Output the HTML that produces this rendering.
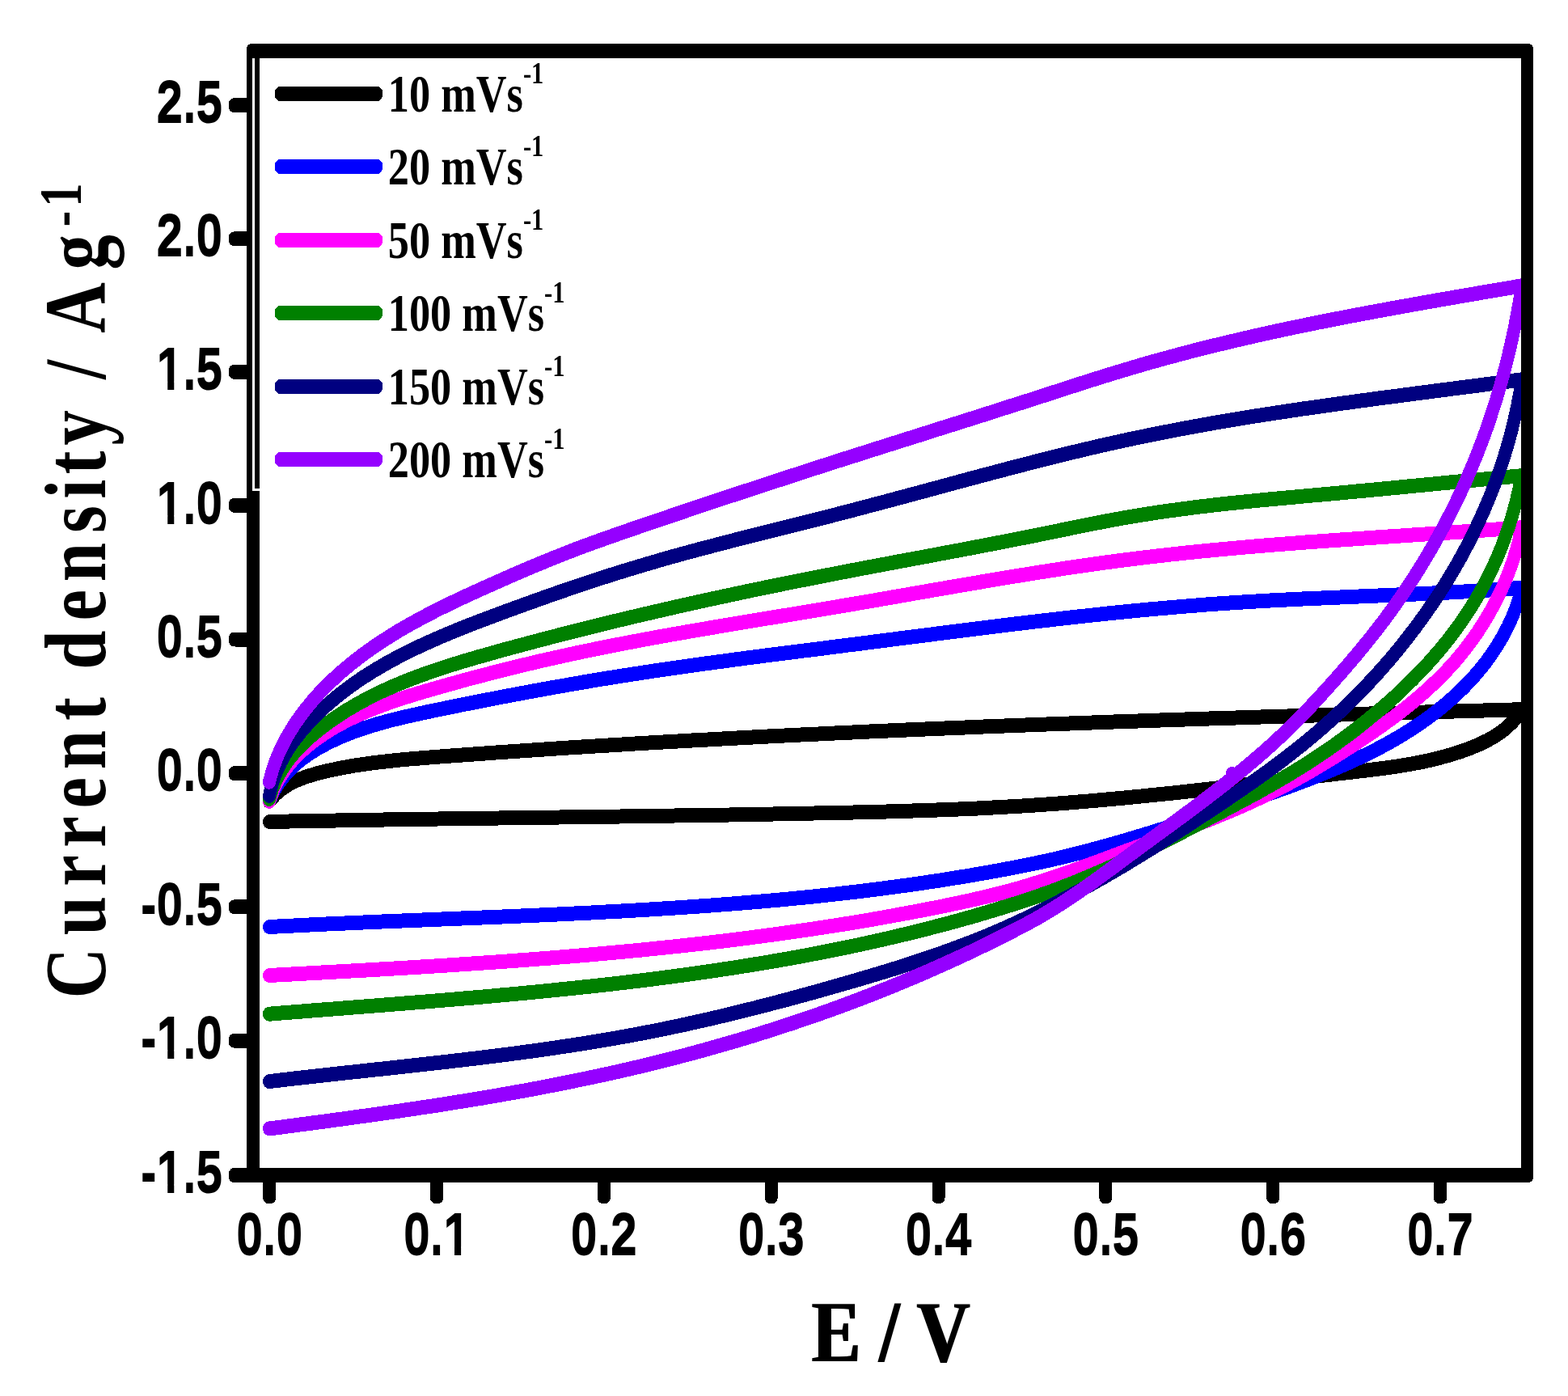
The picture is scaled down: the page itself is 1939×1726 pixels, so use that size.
<!DOCTYPE html>
<html lang="en"><head><meta charset="utf-8"><title>Cyclic voltammetry: current density vs potential</title>
<style>html,body{margin:0;padding:0;background:#fff}body{width:1939px;height:1726px;overflow:hidden}svg{display:block}.sans{font-family:"Liberation Sans",Arial,Helvetica,sans-serif;font-weight:700;font-kerning:none}.serif{font-family:"Liberation Serif","Times New Roman",Times,serif;font-weight:700}text{fill:#000}</style></head><body>
<svg width="1939" height="1726" viewBox="0 0 1939 1726" shape-rendering="crispEdges">
<rect x="0" y="0" width="1939" height="1726" fill="#fff"/>
<defs><clipPath id="plot"><rect x="313" y="63" width="1576" height="1390"/></clipPath><filter id="emb-sans" x="-5%" y="-20%" width="110%" height="140%" color-interpolation-filters="sRGB"><feMorphology operator="dilate" radius="0 0.6"/></filter><filter id="emb-serif" x="-5%" y="-20%" width="110%" height="140%" color-interpolation-filters="sRGB"><feMorphology operator="dilate" radius="0.9 0"/></filter></defs>
<g clip-path="url(#plot)"><g transform="scale(0.88889,1)" fill="none" stroke-width="18" stroke-linecap="round" stroke-linejoin="round">
<path d="M374.6,991.0L383.2,982.1L391.8,975.6L401.7,969.8L413.1,964.7L426.3,960.2L441.3,956.2L458.4,952.5L476.3,949.2L494.4,946.4L513.0,944.0L531.8,941.9L551.0,940.0L570.5,938.4L590.3,937.0L610.4,935.6L630.7,934.3L651.0,933.0L671.3,931.7L691.5,930.4L711.8,929.2L732.1,928.0L752.4,926.8L772.7,925.6L793.0,924.4L813.4,923.3L833.7,922.2L854.0,921.1L874.3,920.0L894.6,918.9L915.0,917.9L935.3,916.9L955.6,915.8L976.0,914.9L996.3,913.9L1016.6,912.9L1037.0,912.0L1057.3,911.0L1077.7,910.1L1098.0,909.2L1118.4,908.3L1138.7,907.5L1159.1,906.6L1179.4,905.8L1199.8,904.9L1220.1,904.1L1240.5,903.3L1260.9,902.5L1281.2,901.7L1301.6,901.0L1322.0,900.2L1342.3,899.5L1362.7,898.7L1383.1,898.0L1403.4,897.3L1423.8,896.6L1444.2,895.9L1464.6,895.2L1484.9,894.6L1505.3,893.9L1525.7,893.3L1546.1,892.6L1566.5,892.0L1586.8,891.4L1607.2,890.7L1627.6,890.1L1648.0,889.5L1668.4,888.9L1688.8,888.3L1709.2,887.8L1729.6,887.2L1750.0,886.6L1770.4,886.1L1790.8,885.5L1811.1,885.0L1831.5,884.4L1851.9,883.9L1872.3,883.3L1892.8,882.8L1913.2,882.3L1933.6,881.8L1954.0,881.2L1974.4,880.7L1994.8,880.2L2015.2,879.7L2035.6,879.2L2056.0,878.7L2076.4,878.2L2096.8,877.7L2117.2,877.2" stroke="#000000"/>
<path d="M2117.3,877.2L2110.7,885.9L2104.3,892.6L2096.9,898.9L2088.6,904.9L2079.3,910.4L2069.0,915.6L2057.7,920.4L2045.4,925.0L2032.2,929.2L2018.6,933.1L2004.6,936.5L1990.3,939.7L1975.7,942.5L1960.7,945.0L1945.4,947.2L1929.9,949.2L1914.0,951.1L1897.9,952.8L1881.4,954.5L1864.7,956.2L1848.1,957.9L1831.5,959.7L1814.8,961.4L1798.1,963.2L1781.4,965.0L1764.7,966.8L1748.0,968.6L1731.3,970.4L1714.6,972.1L1698.0,973.9L1681.4,975.6L1664.8,977.2L1648.2,978.9L1631.6,980.5L1615.0,982.0L1598.4,983.5L1581.8,985.0L1565.3,986.4L1548.7,987.8L1532.1,989.1L1515.6,990.4L1499.0,991.6L1482.4,992.8L1465.9,993.9L1449.3,994.9L1432.8,995.9L1416.3,996.8L1399.7,997.6L1383.2,998.4L1366.6,999.2L1350.0,999.9L1333.3,1000.5L1316.7,1001.1L1300.0,1001.6L1283.4,1002.1L1266.7,1002.6L1249.9,1003.0L1233.2,1003.5L1216.4,1003.8L1199.7,1004.2L1182.9,1004.6L1166.1,1004.9L1149.3,1005.2L1132.5,1005.5L1115.6,1005.8L1098.8,1006.1L1082.0,1006.4L1065.2,1006.7L1048.3,1007.0L1031.5,1007.2L1014.7,1007.5L997.9,1007.7L981.0,1008.0L964.2,1008.2L947.4,1008.4L930.5,1008.6L913.7,1008.9L896.8,1009.1L880.0,1009.3L863.1,1009.5L846.3,1009.7L829.4,1009.9L812.6,1010.1L795.7,1010.3L778.9,1010.5L762.0,1010.7L745.1,1010.9L728.3,1011.1L711.4,1011.3L694.6,1011.5L677.7,1011.7L660.8,1011.9L644.0,1012.1L627.1,1012.3L610.3,1012.5L593.4,1012.7L576.6,1013.0L559.8,1013.2L542.9,1013.4L526.1,1013.6L509.2,1013.9L492.4,1014.1L475.6,1014.4L458.7,1014.6L441.9,1014.9L425.1,1015.1L408.3,1015.4L391.4,1015.7L374.6,1016.0" stroke="#000000"/>
<path d="M374.6,990.8L381.0,978.3L388.1,967.9L396.5,958.1L406.2,949.0L417.3,940.3L429.7,932.2L443.4,924.6L458.3,917.6L474.1,911.1L490.6,905.2L507.8,899.9L525.6,895.0L544.0,890.5L563.0,886.4L582.5,882.5L602.5,878.7L622.9,875.0L643.3,871.3L663.8,867.7L684.3,864.1L704.8,860.6L725.2,857.2L745.7,853.8L766.2,850.5L786.7,847.3L807.3,844.1L827.8,841.0L848.3,838.0L868.9,835.1L889.4,832.3L910.0,829.5L930.6,826.8L951.2,824.2L971.9,821.6L992.6,819.1L1013.4,816.6L1034.1,814.1L1054.9,811.7L1075.8,809.3L1096.6,807.0L1117.5,804.6L1138.4,802.3L1159.3,799.9L1180.2,797.5L1201.1,795.2L1222.0,792.8L1242.9,790.4L1263.9,788.0L1284.8,785.7L1305.7,783.3L1326.5,780.9L1347.4,778.6L1368.2,776.3L1389.1,774.0L1409.9,771.7L1430.7,769.5L1451.5,767.3L1472.3,765.2L1493.1,763.1L1513.8,761.1L1534.6,759.1L1555.3,757.2L1576.1,755.4L1596.8,753.6L1617.5,752.0L1638.2,750.4L1658.9,748.9L1679.6,747.4L1700.3,746.1L1721.0,744.9L1741.7,743.8L1762.4,742.7L1783.3,741.8L1804.1,740.8L1825.0,740.0L1846.0,739.2L1866.9,738.4L1888.0,737.6L1909.0,736.8L1930.1,736.0L1951.1,735.2L1972.0,734.4L1992.9,733.5L2013.7,732.6L2034.5,731.6L2055.3,730.5L2076.0,729.3L2096.6,728.1L2117.3,726.7" stroke="#0000ff"/>
<path d="M2117.2,726.7L2113.3,739.8L2108.7,751.8L2103.4,763.7L2097.3,775.4L2090.5,786.9L2083.0,798.1L2074.9,809.1L2066.1,819.9L2056.6,830.3L2046.7,840.4L2036.1,850.2L2025.1,859.6L2013.5,868.7L2001.5,877.5L1989.0,886.0L1976.1,894.2L1962.8,902.0L1949.2,909.6L1935.2,916.8L1920.9,923.8L1906.3,930.5L1891.4,936.9L1876.2,943.1L1860.8,949.1L1845.1,954.9L1829.2,960.5L1813.0,966.1L1796.7,971.5L1780.2,976.8L1763.7,982.0L1747.0,987.1L1730.2,992.2L1713.3,997.2L1696.3,1002.2L1679.2,1007.2L1662.2,1012.2L1645.1,1017.0L1628.2,1021.9L1611.2,1026.6L1594.3,1031.3L1577.4,1035.8L1560.5,1040.3L1543.6,1044.5L1526.8,1048.7L1510.0,1052.7L1493.1,1056.5L1476.3,1060.2L1459.5,1063.7L1442.7,1066.9L1425.8,1070.0L1408.5,1073.0L1391.2,1075.9L1373.8,1078.7L1356.4,1081.4L1339.0,1084.0L1321.5,1086.5L1304.0,1089.0L1286.5,1091.3L1269.0,1093.6L1251.4,1095.7L1233.9,1097.8L1216.3,1099.8L1198.6,1101.8L1181.0,1103.6L1163.4,1105.4L1145.7,1107.1L1128.0,1108.8L1110.3,1110.3L1092.5,1111.9L1074.8,1113.3L1057.0,1114.7L1039.2,1116.0L1021.4,1117.3L1003.6,1118.5L985.8,1119.7L968.0,1120.8L950.1,1121.9L932.3,1122.9L914.4,1123.9L896.5,1124.9L878.6,1125.8L860.7,1126.7L842.7,1127.5L824.8,1128.4L806.9,1129.2L788.9,1129.9L770.9,1130.7L752.9,1131.4L734.9,1132.1L716.9,1132.8L698.9,1133.5L680.9,1134.1L662.8,1134.8L644.8,1135.4L626.7,1136.1L608.7,1136.7L590.6,1137.4L572.5,1138.0L554.5,1138.7L536.5,1139.3L518.4,1140.0L500.4,1140.7L482.4,1141.4L464.4,1142.1L446.4,1142.8L428.5,1143.6L410.5,1144.4L392.6,1145.2L374.6,1146.0" stroke="#0000ff"/>
<path d="M374.6,990.8L380.1,977.3L386.5,965.6L394.3,954.5L403.3,943.8L413.7,933.7L425.4,924.1L438.3,914.9L452.3,906.3L467.3,898.1L483.0,890.6L499.5,883.6L516.7,877.1L534.5,871.0L552.9,865.3L571.9,859.9L591.3,854.7L611.3,849.6L631.4,844.6L651.6,839.6L671.9,834.9L692.1,830.2L712.4,825.7L732.7,821.3L753.1,817.0L773.5,812.9L793.9,808.9L814.4,805.0L834.9,801.3L855.5,797.6L876.2,794.1L896.9,790.6L917.6,787.2L938.5,783.9L959.3,780.7L980.2,777.5L1001.2,774.3L1022.1,771.2L1043.2,768.1L1064.2,765.0L1085.3,761.9L1106.4,758.8L1127.5,755.7L1148.5,752.6L1169.5,749.4L1190.5,746.3L1211.5,743.1L1232.5,739.8L1253.5,736.6L1274.6,733.3L1295.7,730.0L1316.7,726.8L1337.7,723.6L1358.7,720.4L1379.7,717.2L1400.6,714.1L1421.5,711.1L1442.4,708.1L1463.3,705.2L1484.2,702.3L1505.1,699.6L1525.9,696.9L1546.7,694.4L1567.5,692.0L1588.3,689.7L1609.2,687.5L1630.1,685.4L1651.0,683.4L1671.9,681.5L1692.9,679.7L1714.0,678.0L1735.0,676.3L1756.1,674.7L1777.2,673.2L1798.3,671.8L1819.5,670.3L1840.7,669.0L1861.9,667.7L1883.2,666.4L1904.4,665.1L1925.7,663.8L1947.1,662.6L1968.4,661.3L1989.8,660.1L2011.1,658.8L2032.4,657.6L2053.6,656.3L2074.9,654.9L2096.1,653.6L2117.2,652.2" stroke="#ff00ff"/>
<path d="M2117.2,652.2L2113.5,666.7L2109.3,680.4L2104.5,694.0L2099.1,707.4L2093.0,720.6L2086.4,733.7L2079.2,746.5L2071.4,759.0L2063.1,771.3L2054.3,783.3L2044.9,794.9L2035.1,806.2L2024.8,817.2L2013.9,827.9L2002.5,838.3L1990.6,848.5L1978.2,858.4L1965.4,868.1L1952.2,877.6L1938.6,886.8L1924.6,895.9L1910.3,904.8L1895.7,913.6L1880.8,922.3L1865.7,930.8L1850.4,939.3L1835.2,947.4L1819.9,955.4L1804.5,963.1L1789.1,970.4L1773.7,977.5L1758.1,984.3L1742.2,990.9L1726.0,997.3L1709.7,1003.5L1693.1,1009.6L1676.4,1015.5L1659.5,1021.4L1642.4,1027.2L1625.1,1032.9L1607.7,1038.7L1590.2,1044.5L1572.7,1050.2L1555.2,1056.0L1537.8,1061.8L1520.4,1067.5L1503.2,1073.1L1486.1,1078.5L1469.1,1083.7L1452.1,1088.7L1435.2,1093.4L1418.4,1097.9L1401.5,1102.0L1384.5,1105.9L1367.2,1109.6L1349.7,1113.2L1332.1,1116.6L1314.3,1119.9L1296.3,1123.1L1278.3,1126.2L1260.2,1129.2L1242.1,1132.2L1224.0,1135.1L1205.9,1137.9L1187.8,1140.6L1169.6,1143.2L1151.4,1145.7L1133.2,1148.2L1115.0,1150.6L1096.7,1152.9L1078.5,1155.2L1060.2,1157.4L1041.9,1159.5L1023.6,1161.6L1005.2,1163.6L986.9,1165.5L968.5,1167.4L950.1,1169.2L931.7,1170.9L913.3,1172.6L894.9,1174.3L876.5,1175.9L858.0,1177.4L839.6,1178.9L821.1,1180.4L802.6,1181.8L784.1,1183.1L765.6,1184.5L747.1,1185.7L728.5,1187.0L710.0,1188.2L691.4,1189.4L672.9,1190.5L654.3,1191.6L635.7,1192.7L617.1,1193.8L598.5,1194.8L579.9,1195.8L561.3,1196.8L542.7,1197.8L524.0,1198.7L505.4,1199.7L486.7,1200.6L468.1,1201.5L449.4,1202.4L430.7,1203.3L412.0,1204.2L393.3,1205.1L374.6,1206.0" stroke="#ff00ff"/>
<path d="M374.6,988.0L379.5,974.3L385.4,962.3L392.7,950.7L401.5,939.4L411.7,928.5L423.3,917.9L436.1,907.6L450.2,897.7L465.1,888.1L480.7,879.0L496.9,870.5L513.6,862.5L530.8,855.0L548.5,847.9L566.7,841.3L585.3,835.0L604.2,829.1L623.5,823.4L643.2,818.0L663.1,812.8L683.4,807.7L703.9,802.6L724.5,797.7L745.2,792.8L765.8,788.0L786.5,783.2L807.3,778.6L828.0,774.0L848.8,769.4L869.6,765.0L890.4,760.6L911.3,756.3L932.2,752.0L953.1,747.8L974.0,743.7L994.9,739.6L1015.9,735.6L1036.9,731.6L1057.9,727.7L1078.9,723.9L1099.9,720.1L1121.0,716.4L1142.0,712.7L1163.1,709.0L1184.3,705.4L1205.4,701.8L1226.6,698.3L1247.8,694.7L1269.1,691.2L1290.4,687.7L1311.6,684.1L1332.8,680.6L1354.0,677.0L1375.1,673.4L1396.2,669.8L1417.3,666.1L1438.3,662.4L1459.3,658.6L1480.5,654.7L1501.5,650.9L1522.4,647.2L1543.2,643.6L1563.8,640.3L1584.3,637.2L1604.9,634.3L1625.6,631.6L1646.4,629.1L1667.3,626.7L1688.2,624.5L1709.3,622.4L1730.5,620.5L1751.7,618.6L1773.0,616.8L1794.4,615.1L1815.9,613.3L1837.4,611.6L1858.9,609.9L1880.4,608.1L1901.8,606.3L1923.3,604.5L1944.8,602.7L1966.3,600.8L1987.9,599.0L2009.4,597.1L2030.9,595.3L2052.4,593.5L2073.8,591.7L2095.3,589.9L2116.7,588.2" stroke="#008000"/>
<path d="M2116.7,588.2L2113.4,603.6L2109.6,618.3L2105.3,633.0L2100.4,647.5L2094.9,661.9L2089.0,676.1L2082.5,690.1L2075.4,703.9L2067.9,717.5L2059.8,730.9L2051.3,744.0L2042.2,756.8L2032.7,769.3L2022.6,781.7L2012.1,793.8L2001.0,805.7L1989.6,817.3L1977.7,828.8L1965.5,839.9L1952.9,850.9L1939.9,861.7L1926.6,872.2L1912.9,882.5L1899.0,892.6L1884.9,902.5L1870.5,912.1L1855.9,921.5L1841.1,930.6L1826.1,939.5L1810.9,948.1L1795.4,956.5L1779.7,964.8L1763.7,972.9L1747.5,980.9L1731.0,988.8L1714.3,996.7L1697.5,1004.6L1680.5,1012.5L1663.5,1020.3L1646.6,1028.1L1629.6,1035.7L1612.8,1043.3L1595.9,1050.7L1579.0,1057.9L1562.1,1065.0L1545.2,1071.9L1528.3,1078.5L1511.4,1085.0L1494.4,1091.2L1477.5,1097.1L1460.4,1102.8L1443.3,1108.2L1426.1,1113.3L1408.4,1118.4L1390.5,1123.3L1372.6,1128.1L1354.6,1132.8L1336.5,1137.3L1318.4,1141.7L1300.3,1145.9L1282.1,1150.1L1263.8,1154.1L1245.5,1158.0L1227.2,1161.8L1208.8,1165.4L1190.4,1169.0L1171.9,1172.4L1153.4,1175.7L1134.9,1178.9L1116.3,1182.1L1097.7,1185.1L1079.0,1188.0L1060.4,1190.8L1041.7,1193.5L1023.0,1196.2L1004.2,1198.7L985.4,1201.2L966.6,1203.6L947.8,1205.9L928.9,1208.1L910.0,1210.3L891.1,1212.4L872.2,1214.4L853.3,1216.4L834.3,1218.3L815.3,1220.1L796.3,1221.9L777.3,1223.6L758.3,1225.3L739.2,1227.0L720.1,1228.6L701.0,1230.1L681.9,1231.7L662.8,1233.2L643.7,1234.6L624.5,1236.1L605.4,1237.5L586.2,1238.9L567.0,1240.2L547.8,1241.6L528.5,1243.0L509.3,1244.3L490.1,1245.6L470.8,1247.0L451.5,1248.3L432.3,1249.6L413.1,1251.0L393.8,1252.3L374.6,1253.7" stroke="#008000"/>
<path d="M374.6,984.0L378.6,969.2L383.9,955.8L390.6,942.6L398.6,929.7L408.1,917.0L418.8,904.7L430.7,892.6L443.6,880.9L457.5,869.6L472.1,858.8L487.4,848.5L503.3,838.6L519.9,829.3L536.9,820.4L554.5,811.9L572.6,803.7L591.2,796.0L610.1,788.5L629.4,781.3L649.0,774.2L669.0,767.4L689.2,760.6L709.7,753.9L730.3,747.2L750.8,740.7L771.4,734.2L792.0,727.9L812.5,721.8L833.1,715.7L853.8,709.8L874.4,704.1L895.1,698.6L915.8,693.2L936.6,687.9L957.5,682.8L978.6,677.8L999.7,672.9L1020.9,668.0L1042.2,663.2L1063.6,658.4L1085.1,653.6L1106.6,648.8L1128.0,644.1L1149.4,639.3L1170.7,634.4L1191.9,629.5L1213.2,624.5L1234.5,619.5L1255.8,614.4L1277.2,609.3L1298.6,604.2L1320.0,599.0L1341.3,593.9L1362.7,588.8L1384.0,583.8L1405.2,578.8L1426.5,573.9L1447.7,569.1L1468.9,564.4L1490.1,559.7L1511.3,555.2L1532.5,550.8L1553.7,546.6L1574.8,542.5L1596.0,538.6L1617.3,534.8L1638.6,531.1L1660.0,527.6L1681.4,524.1L1702.8,520.8L1724.3,517.6L1745.9,514.5L1767.5,511.5L1789.2,508.6L1810.8,505.7L1832.6,503.0L1854.3,500.2L1876.1,497.6L1898.0,494.9L1919.8,492.3L1941.7,489.8L1963.7,487.2L1985.6,484.7L2007.6,482.1L2029.6,479.6L2051.6,477.1L2073.5,474.5L2095.4,471.9L2117.2,469.3" stroke="#000080"/>
<path d="M2117.3,469.3L2114.2,486.1L2110.7,502.3L2106.7,518.5L2102.3,534.7L2097.3,550.7L2091.9,566.6L2086.0,582.4L2079.6,598.1L2072.8,613.6L2065.5,629.1L2057.8,644.3L2049.7,659.4L2041.2,674.4L2032.3,689.2L2022.9,703.8L2013.2,718.3L2003.1,732.5L1992.6,746.6L1981.8,760.4L1970.6,774.1L1959.1,787.5L1947.3,800.8L1935.1,813.8L1922.6,826.6L1909.8,839.2L1896.7,851.5L1883.4,863.6L1869.7,875.4L1855.8,887.0L1841.6,898.4L1827.1,909.5L1812.4,920.3L1797.3,930.9L1782.0,941.4L1766.4,951.7L1750.5,961.9L1734.4,971.9L1718.0,981.9L1701.4,991.9L1684.7,1001.8L1667.9,1011.6L1651.0,1021.4L1634.2,1031.1L1617.2,1040.6L1600.3,1050.0L1583.3,1059.3L1566.3,1068.5L1549.2,1077.5L1532.0,1086.3L1514.8,1094.9L1497.5,1103.4L1480.1,1111.7L1462.7,1119.8L1445.2,1127.6L1427.6,1135.3L1410.2,1142.5L1392.6,1149.5L1374.9,1156.2L1356.9,1162.7L1338.8,1168.9L1320.5,1175.0L1302.0,1180.8L1283.4,1186.4L1264.6,1191.9L1245.7,1197.3L1226.7,1202.5L1207.5,1207.6L1188.2,1212.7L1168.9,1217.6L1149.4,1222.6L1130.0,1227.4L1110.5,1232.1L1091.1,1236.8L1071.6,1241.3L1052.2,1245.8L1032.7,1250.1L1013.3,1254.3L993.8,1258.5L974.3,1262.4L954.8,1266.3L935.3,1270.0L915.8,1273.6L896.2,1277.0L876.6,1280.3L857.0,1283.4L837.3,1286.4L817.6,1289.3L797.8,1292.1L778.0,1294.7L758.1,1297.3L738.2,1299.8L718.2,1302.2L698.2,1304.5L678.1,1306.7L658.0,1308.9L637.9,1311.0L617.7,1313.1L597.5,1315.1L577.3,1317.1L557.0,1319.1L536.7,1321.1L516.4,1323.0L496.0,1325.0L475.7,1326.9L455.4,1328.9L435.2,1330.9L415.0,1332.9L394.8,1335.0L374.6,1337.1" stroke="#000080"/>
<path d="M374.6,966.7L379.4,951.0L385.3,936.6L392.5,922.3L401.0,908.3L410.6,894.6L421.3,881.2L433.1,868.2L445.7,855.6L459.3,843.4L473.5,831.8L488.5,820.6L504.1,809.8L520.4,799.5L537.3,789.6L554.6,780.0L572.5,770.9L590.9,762.0L609.6,753.4L628.8,745.1L648.3,736.9L668.1,728.9L688.2,720.9L708.5,712.9L728.8,705.1L749.0,697.5L769.1,690.2L789.2,683.1L809.3,676.2L829.8,669.6L850.4,663.1L871.3,656.6L892.3,650.2L913.6,643.8L934.8,637.4L956.1,631.0L977.3,624.7L998.6,618.4L1019.9,612.1L1041.2,605.9L1062.5,599.6L1083.8,593.5L1105.1,587.3L1126.4,581.1L1147.8,575.0L1169.1,568.9L1190.5,562.9L1211.9,556.8L1233.3,550.8L1254.7,544.8L1276.2,538.8L1297.6,532.7L1319.1,526.7L1340.5,520.7L1362.0,514.7L1383.3,508.6L1404.7,502.5L1426.1,496.5L1447.4,490.4L1468.8,484.2L1490.1,478.1L1511.3,472.0L1532.5,466.1L1553.6,460.3L1574.6,454.7L1595.6,449.2L1616.7,444.0L1637.8,438.9L1659.1,433.9L1680.4,429.1L1701.8,424.5L1723.2,420.0L1744.7,415.6L1766.3,411.3L1787.9,407.1L1809.5,403.1L1831.3,399.1L1853.0,395.3L1874.8,391.5L1896.7,387.8L1918.6,384.2L1940.5,380.6L1962.5,377.1L1984.5,373.6L2006.5,370.2L2028.6,366.8L2050.7,363.4L2072.9,360.0L2095.1,356.7L2117.2,353.3" stroke="#9500ff"/>
<path d="M2117.3,353.3L2114.0,371.5L2110.4,389.3L2106.5,407.0L2102.2,424.7L2097.5,442.3L2092.5,459.8L2087.1,477.2L2081.4,494.4L2075.2,511.6L2068.8,528.6L2061.9,545.5L2054.6,562.2L2047.0,578.8L2039.0,595.3L2030.6,611.6L2021.8,627.8L2012.6,643.8L2003.1,659.6L1993.3,675.3L1983.0,690.8L1972.5,706.1L1961.6,721.2L1950.3,736.1L1938.7,750.8L1926.8,765.3L1914.5,779.6L1901.9,793.7L1888.9,807.8L1875.5,821.8L1861.9,835.7L1848.1,849.5L1834.2,863.1L1820.2,876.3L1806.0,889.3L1791.6,902.0L1777.0,914.3L1762.1,926.4L1746.8,938.2L1731.2,949.9L1715.3,961.4L1699.1,972.8L1682.6,984.1L1665.9,995.4L1649.0,1006.6L1631.9,1017.8L1614.6,1029.0L1597.2,1040.3L1580.0,1051.6L1562.8,1062.8L1545.6,1074.2L1528.5,1085.3L1511.7,1096.0L1494.9,1106.4L1478.1,1116.3L1461.4,1125.6L1444.6,1134.4L1427.5,1142.7L1409.3,1151.1L1390.7,1159.5L1372.0,1167.7L1353.2,1175.8L1334.2,1183.6L1315.2,1191.3L1296.1,1198.9L1276.9,1206.3L1257.6,1213.5L1238.3,1220.6L1218.8,1227.5L1199.3,1234.2L1179.7,1240.8L1160.1,1247.2L1140.3,1253.5L1120.5,1259.6L1100.7,1265.5L1080.7,1271.3L1060.7,1277.0L1040.7,1282.5L1020.6,1287.8L1000.4,1293.0L980.2,1298.1L959.9,1303.0L939.6,1307.7L919.2,1312.3L898.8,1316.8L878.3,1321.1L857.8,1325.3L837.2,1329.3L816.6,1333.2L795.9,1337.0L775.2,1340.7L754.4,1344.3L733.6,1347.8L712.8,1351.1L691.9,1354.4L671.0,1357.6L650.0,1360.6L629.0,1363.6L608.0,1366.6L586.9,1369.4L565.8,1372.2L544.7,1375.0L523.5,1377.7L502.3,1380.3L481.1,1382.9L459.8,1385.5L438.6,1388.0L417.3,1390.5L396.0,1393.0L374.6,1395.5" stroke="#9500ff"/>
<circle cx="1713.9" cy="957.0" r="9" fill="#9500ff" stroke="none"/>
</g></g>
<g fill="#000">
<path fill-rule="evenodd" d="M312,54 H1889 Q1896,54 1896,61 V1455 Q1896,1462 1889,1462 H312 Q305,1462 305,1455 V61 Q305,54 312,54 Z M321,72 V1444 H1881 V72 Z"/>
<path d="M309,121.1 H290.5 Q283,121.1 283,128.6 V131.6 Q283,139.1 290.5,139.1 H309 Z"/>
<path d="M309,286.3 H290.5 Q283,286.3 283,293.8 V296.8 Q283,304.3 290.5,304.3 H309 Z"/>
<path d="M309,450.9 H290.5 Q283,450.9 283,458.4 V461.4 Q283,468.9 290.5,468.9 H309 Z"/>
<path d="M309,615.9 H290.5 Q283,615.9 283,623.4 V626.4 Q283,633.9 290.5,633.9 H309 Z"/>
<path d="M309,781.5 H290.5 Q283,781.5 283,789 V792 Q283,799.5 290.5,799.5 H309 Z"/>
<path d="M309,947.2 H290.5 Q283,947.2 283,954.7 V957.7 Q283,965.2 290.5,965.2 H309 Z"/>
<path d="M309,1112.3 H290.5 Q283,1112.3 283,1119.8 V1122.8 Q283,1130.3 290.5,1130.3 H309 Z"/>
<path d="M309,1277.7 H290.5 Q283,1277.7 283,1285.2 V1288.2 Q283,1295.7 290.5,1295.7 H309 Z"/>
<path d="M321,1444 H290.5 Q283,1444 283,1451.5 V1454.5 Q283,1462 290.5,1462 H321 Z"/>
<path d="M325.2,1458 V1480.5 Q325.2,1488 332.7,1488 H333.7 Q341.2,1488 341.2,1480.5 V1458 Z"/>
<path d="M532.03,1458 V1480.5 Q532.03,1488 539.53,1488 H540.53 Q548.03,1488 548.03,1480.5 V1458 Z"/>
<path d="M738.86,1458 V1480.5 Q738.86,1488 746.36,1488 H747.36 Q754.86,1488 754.86,1480.5 V1458 Z"/>
<path d="M945.69,1458 V1480.5 Q945.69,1488 953.19,1488 H954.19 Q961.69,1488 961.69,1480.5 V1458 Z"/>
<path d="M1152.52,1458 V1480.5 Q1152.52,1488 1160.02,1488 H1161.02 Q1168.52,1488 1168.52,1480.5 V1458 Z"/>
<path d="M1359.35,1458 V1480.5 Q1359.35,1488 1366.85,1488 H1367.85 Q1375.35,1488 1375.35,1480.5 V1458 Z"/>
<path d="M1566.18,1458 V1480.5 Q1566.18,1488 1573.68,1488 H1574.68 Q1582.18,1488 1582.18,1480.5 V1458 Z"/>
<path d="M1773.01,1458 V1480.5 Q1773.01,1488 1780.51,1488 H1781.51 Q1789.01,1488 1789.01,1480.5 V1458 Z"/>
</g>
<path d="M313.5,72 V605 H321.5" fill="none" stroke="#fff" stroke-width="3"/>
<g>
<rect x="340" y="107" width="133" height="18" rx="7" ry="7" fill="#000000"/>
<rect x="340" y="197" width="133" height="18" rx="7" ry="7" fill="#0000ff"/>
<rect x="340" y="288" width="133" height="18" rx="7" ry="7" fill="#ff00ff"/>
<rect x="340" y="378" width="133" height="18" rx="7" ry="7" fill="#008000"/>
<rect x="340" y="469" width="133" height="18" rx="7" ry="7" fill="#000080"/>
<rect x="340" y="559" width="133" height="18" rx="7" ry="7" fill="#9500ff"/>
</g>
<text class="sans" transform="translate(275.00,150.60) scale(0.8160,1.0000)" font-size="71.8" text-anchor="end" filter="url(#emb-sans)">2.5</text>
<text class="sans" transform="translate(275.00,315.50) scale(0.8160,1.0000)" font-size="71.8" text-anchor="end" filter="url(#emb-sans)">2.0</text>
<clipPath id="c1-1" clipPathUnits="userSpaceOnUse"><path clip-rule="evenodd" d="M-400,-200H400V200H-400ZM-97.79,-9.33H-83.05V3.00H-97.79ZM-73.20,-9.33H-59.38V3.00H-73.20Z"/></clipPath>
<text class="sans" transform="translate(275.00,481.20) scale(0.8160,1.0000)" font-size="71.8" text-anchor="end" filter="url(#emb-sans)" clip-path="url(#c1-1)">1.5</text>
<clipPath id="c1-2" clipPathUnits="userSpaceOnUse"><path clip-rule="evenodd" d="M-400,-200H400V200H-400ZM-97.79,-9.33H-83.05V3.00H-97.79ZM-73.20,-9.33H-59.38V3.00H-73.20Z"/></clipPath>
<text class="sans" transform="translate(275.00,646.50) scale(0.8160,1.0000)" font-size="71.8" text-anchor="end" filter="url(#emb-sans)" clip-path="url(#c1-2)">1.0</text>
<text class="sans" transform="translate(275.00,811.80) scale(0.8160,1.0000)" font-size="71.8" text-anchor="end" filter="url(#emb-sans)">0.5</text>
<text class="sans" transform="translate(275.00,976.70) scale(0.8160,1.0000)" font-size="71.8" text-anchor="end" filter="url(#emb-sans)">0.0</text>
<text class="sans" transform="translate(275.00,1142.50) scale(0.8160,1.0000)" font-size="71.8" text-anchor="end" filter="url(#emb-sans)">-0.5</text>
<clipPath id="c1-3" clipPathUnits="userSpaceOnUse"><path clip-rule="evenodd" d="M-400,-200H400V200H-400ZM-97.79,-9.33H-83.05V3.00H-97.79ZM-73.20,-9.33H-59.38V3.00H-73.20Z"/></clipPath>
<text class="sans" transform="translate(275.00,1307.70) scale(0.8160,1.0000)" font-size="71.8" text-anchor="end" filter="url(#emb-sans)" clip-path="url(#c1-3)">-1.0</text>
<clipPath id="c1-4" clipPathUnits="userSpaceOnUse"><path clip-rule="evenodd" d="M-400,-200H400V200H-400ZM-97.79,-9.33H-83.05V3.00H-97.79ZM-73.20,-9.33H-59.38V3.00H-73.20Z"/></clipPath>
<text class="sans" transform="translate(275.00,1473.90) scale(0.8160,1.0000)" font-size="71.8" text-anchor="end" filter="url(#emb-sans)" clip-path="url(#c1-4)">-1.5</text>
<text class="sans" transform="translate(333.20,1550.90) scale(0.8220,1.0000)" font-size="71.8" text-anchor="middle" filter="url(#emb-sans)">0.0</text>
<clipPath id="c1-5" clipPathUnits="userSpaceOnUse"><path clip-rule="evenodd" d="M-400,-200H400V200H-400ZM12.00,-9.33H26.73V3.00H12.00ZM36.58,-9.33H50.41V3.00H36.58Z"/></clipPath>
<text class="sans" transform="translate(540.03,1550.90) scale(0.8220,1.0000)" font-size="71.8" text-anchor="middle" filter="url(#emb-sans)" clip-path="url(#c1-5)">0.1</text>
<text class="sans" transform="translate(746.86,1550.90) scale(0.8220,1.0000)" font-size="71.8" text-anchor="middle" filter="url(#emb-sans)">0.2</text>
<text class="sans" transform="translate(953.69,1550.90) scale(0.8220,1.0000)" font-size="71.8" text-anchor="middle" filter="url(#emb-sans)">0.3</text>
<text class="sans" transform="translate(1160.52,1550.90) scale(0.8220,1.0000)" font-size="71.8" text-anchor="middle" filter="url(#emb-sans)">0.4</text>
<text class="sans" transform="translate(1367.35,1550.90) scale(0.8220,1.0000)" font-size="71.8" text-anchor="middle" filter="url(#emb-sans)">0.5</text>
<text class="sans" transform="translate(1574.18,1550.90) scale(0.8220,1.0000)" font-size="71.8" text-anchor="middle" filter="url(#emb-sans)">0.6</text>
<text class="sans" transform="translate(1781.01,1550.90) scale(0.8220,1.0000)" font-size="71.8" text-anchor="middle" filter="url(#emb-sans)">0.7</text>
<text class="serif" transform="translate(479.80,137.60) scale(0.8050,1.0000)" font-size="65" text-anchor="start" xml:space="preserve">10 mVs<tspan font-size="38" dy="-35" dx="0">-1</tspan></text>
<text class="serif" transform="translate(479.80,227.60) scale(0.8050,1.0000)" font-size="65" text-anchor="start" xml:space="preserve">20 mVs<tspan font-size="38" dy="-35" dx="0">-1</tspan></text>
<text class="serif" transform="translate(479.80,318.60) scale(0.8050,1.0000)" font-size="65" text-anchor="start" xml:space="preserve">50 mVs<tspan font-size="38" dy="-35" dx="0">-1</tspan></text>
<text class="serif" transform="translate(479.80,408.60) scale(0.8050,1.0000)" font-size="65" text-anchor="start" xml:space="preserve">100 mVs<tspan font-size="38" dy="-35" dx="0">-1</tspan></text>
<text class="serif" transform="translate(479.80,499.60) scale(0.8050,1.0000)" font-size="65" text-anchor="start" xml:space="preserve">150 mVs<tspan font-size="38" dy="-35" dx="0">-1</tspan></text>
<text class="serif" transform="translate(479.80,589.60) scale(0.8050,1.0000)" font-size="65" text-anchor="start" xml:space="preserve">200 mVs<tspan font-size="38" dy="-35" dx="0">-1</tspan></text>
<text class="serif" transform="translate(1003.80,1683.00) scale(0.8400,1.0000)" font-size="108.5" text-anchor="start" xml:space="preserve" filter="url(#emb-serif)">E / V</text>
<g transform="translate(129.80,1234.50) rotate(-90)"><text class="serif" transform="scale(0.8000,1)" font-size="108.5" xml:space="preserve"><tspan x="0.00 97.94 173.37 233.57 293.77 353.96 429.39 474.56 508.46 583.89 644.09 719.52 772.30 809.98 855.14 922.95 956.86 994.54 1028.45 1126.39" y="0">Current density / Ag</tspan><tspan x="1192.95 1223.34" y="-30" font-size="73">-1</tspan></text></g>
</svg></body></html>
